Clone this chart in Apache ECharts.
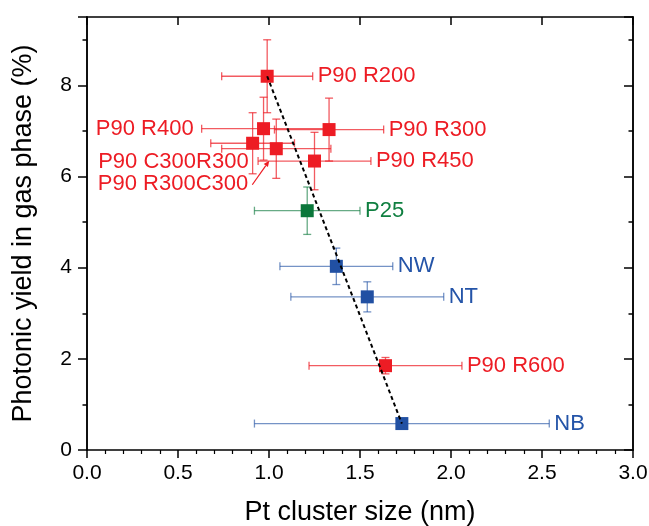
<!DOCTYPE html>
<html>
<head>
<meta charset="utf-8">
<script src="https://cdn.jsdelivr.net/npm/echarts@6/dist/echarts.min.js"></script>
<style>
html,body{margin:0;padding:0;background:#ffffff;}
#chart{width:649px;height:526px;}
</style>
</head>
<body>
<div id="chart"></div>
<script>
// ---------------- data ----------------
const sampleNames      = ['P90 R200','P90 R400','P90 R300','P90 C300R300','P90 R300C300','P90 R450','P25','NW','NT','P90 R600','NB'];
const sampleType       = ['P90','P90','P90','P90','P90','P90','P25','N','N','P90','N'];
const clusterSize      = [0.99, 0.97, 1.33, 0.91, 1.04, 1.25, 1.21, 1.37, 1.54, 1.64, 1.73];
const clusterSizeErr   = [0.25, 0.34, 0.30, 0.23, 0.30, 0.31, 0.29, 0.31, 0.42, 0.42, 0.81];
const photonicYield    = [8.20, 7.05, 7.03, 6.73, 6.61, 6.34, 5.25, 4.03, 3.36, 1.85, 0.58];
const photonicYieldErr = [0.80, 0.69, 0.69, 0.67, 0.65, 0.63, 0.52, 0.40, 0.33, 0.18, 0.04];
const trendSize        = [0.99, 1.73];
const trendYield       = [8.20, 0.58];
const xTickValues      = [0, 0.5, 1.0, 1.5, 2.0, 2.5, 3.0];
const yTickValues      = [0, 2, 4, 6, 8];

// ---------------- styles ----------------
const FONT = "'Liberation Sans', Arial, sans-serif";
const groupStyle = {
  P90: {marker:'#ed1c24', bar:'rgba(237,28,36,0.72)', text:'#ed1c24'},
  P25: {marker:'#0a773a', bar:'rgba(10,119,58,0.62)', text:'#0f7f40'},
  N:   {marker:'#2150a3', bar:'rgba(33,80,163,0.62)', text:'#2454a8'}
};
const groupOrder = ['P90','P25','N'];
// label placement (pixel offsets relative to the point)
const labelPlacement = {
  'P90 R400':     {side:'left'},
  'P90 C300R300': {side:'free', dx:-4,  dy:19},
  'P90 R300C300': {side:'free', dx:-28, dy:35, arrow:{x1:-24, y1:36, x2:-7, y2:12}}
};

const chart = echarts.init(document.getElementById('chart'), null, {renderer:'canvas'});

function rowsFor(type){
  const rows = [];
  for (let i = 0; i < sampleNames.length; i++) {
    if (sampleType[i] === type) rows.push([clusterSize[i], clusterSizeErr[i], photonicYield[i], photonicYieldErr[i], i]);
  }
  return rows;
}

function makeErrorRender(type){
  const st = groupStyle[type];
  return function(params, api){
    const x = api.value(0), xe = api.value(1), y = api.value(2), ye = api.value(3);
    const l = api.coord([x - xe, y]);
    const r = api.coord([x + xe, y]);
    const t = api.coord([x, y + ye]);
    const b = api.coord([x, y - ye]);
    const cap = 4;
    const ls = {stroke: st.bar, lineWidth: 1.3, fill: null};
    const children = [
      {type:'line', shape:{x1:l[0], y1:l[1], x2:r[0], y2:r[1]}, style:ls},
      {type:'line', shape:{x1:l[0], y1:l[1]-cap, x2:l[0], y2:l[1]+cap}, style:ls},
      {type:'line', shape:{x1:r[0], y1:r[1]-cap, x2:r[0], y2:r[1]+cap}, style:ls},
      {type:'line', shape:{x1:t[0], y1:t[1], x2:b[0], y2:b[1]}, style:ls},
      {type:'line', shape:{x1:t[0]-cap, y1:t[1], x2:t[0]+cap, y2:t[1]}, style:ls},
      {type:'line', shape:{x1:b[0]-cap, y1:b[1], x2:b[0]+cap, y2:b[1]}, style:ls}
    ];
    return {type:'group', children:children};
  };
}

function makeLabelRender(type){
  const st = groupStyle[type];
  return function(params, api){
    const x = api.value(0), xe = api.value(1), y = api.value(2), idx = api.value(4);
    const name = sampleNames[idx];
    const c = api.coord([x, y]);
    const l = api.coord([x - xe, y]);
    const r = api.coord([x + xe, y]);
    const pl = labelPlacement[name] || {side:'right'};
    let tx, ty, align;
    if (pl.side === 'left') { tx = l[0] - 8; ty = c[1]; align = 'right'; }
    else if (pl.side === 'free') { tx = c[0] + pl.dx; ty = c[1] + pl.dy; align = 'right'; }
    else { tx = r[0] + 5; ty = c[1]; align = 'left'; }
    const children = [{
      type:'text', x:tx, y:ty,
      style:{text:name, fill:st.text, font:'22px ' + FONT, align:align, verticalAlign:'middle'}
    }];
    if (pl.arrow) {
      const a = pl.arrow;
      const x1 = c[0] + a.x1, y1 = c[1] + a.y1, x2 = c[0] + a.x2, y2 = c[1] + a.y2;
      const ang = Math.atan2(y2 - y1, x2 - x1);
      const hl = 6, hw = 2.6;
      const bx = x2 - hl * Math.cos(ang), by = y2 - hl * Math.sin(ang);
      children.push({type:'line', shape:{x1:x1, y1:y1, x2:bx, y2:by}, style:{stroke:st.marker, lineWidth:1.2}});
      children.push({type:'polygon', shape:{points:[
        [x2, y2],
        [bx + hw * Math.sin(ang), by - hw * Math.cos(ang)],
        [bx - hw * Math.sin(ang), by + hw * Math.cos(ang)]
      ]}, style:{fill:st.marker}});
    }
    return {type:'group', children:children};
  };
}

const series = [];
groupOrder.forEach(function(type){
  series.push({
    type:'custom', name:type + ' err', data:rowsFor(type),
    encode:{x:0, y:2}, renderItem:makeErrorRender(type), z:2, silent:true, clip:false
  });
});
groupOrder.forEach(function(type){
  series.push({
    type:'scatter', name:type, data:rowsFor(type).map(function(r){return [r[0], r[2]];}),
    symbol:'rect', symbolSize:13, itemStyle:{color:groupStyle[type].marker, opacity:1}, z:3, silent:true
  });
});
series.push({
  type:'line', name:'trend', data:trendSize.map(function(v, i){return [v, trendYield[i]];}),
  symbol:'none', lineStyle:{color:'#000', width:2, type:[4,3]}, z:4, silent:true
});
groupOrder.forEach(function(type){
  series.push({
    type:'custom', name:type + ' labels', data:rowsFor(type),
    encode:{x:0, y:2}, renderItem:makeLabelRender(type), z:5, silent:true, clip:false
  });
});

const axisLineStyle = {color:'#000', width:1.5};
const baseX = {type:'value', min:0, max:3, interval:0.5, gridIndex:0,
  axisLine:{show:true, onZero:false, lineStyle:axisLineStyle}, splitLine:{show:false}, minorSplitLine:{show:false}};
const baseY = {type:'value', min:0, max:9.5, gridIndex:0,
  axisLine:{show:true, onZero:false, lineStyle:axisLineStyle}, splitLine:{show:false}, minorSplitLine:{show:false}};

const option = {
  backgroundColor:'#ffffff',
  animation:false,
  grid:{left:87, right:16, top:17, bottom:76, containLabel:false, outerBoundsMode:'none'},
  xAxis:[
    Object.assign({}, baseX, {
      position:'bottom',
      axisTick:{show:true, inside:false, length:8, lineStyle:{color:'#000', width:1.5}},
      minorTick:{show:true, splitNumber:5, length:4, lineStyle:{color:'#000', width:1.2}},
      axisLabel:{show:true, margin:13, fontSize:21, color:'#000', fontFamily:FONT,
        formatter:function(v){ return xTickValues.indexOf(v) >= 0 ? v.toFixed(1) : ''; }},
      name:'Pt cluster size (nm)', nameLocation:'middle', nameGap:49,
      nameTextStyle:{fontSize:27, color:'#000', fontFamily:FONT}
    }),
    Object.assign({}, baseX, {
      position:'top',
      axisTick:{show:true, inside:true, length:8, lineStyle:{color:'#000', width:1.5}},
      axisLabel:{show:false}
    })
  ],
  yAxis:[
    Object.assign({}, baseY, {
      position:'left', interval:2,
      axisTick:{show:true, inside:false, length:9, lineStyle:{color:'#000', width:1.5}},
      axisLabel:{show:true, margin:15, fontSize:21, color:'#000', fontFamily:FONT,
        formatter:function(v){ return yTickValues.indexOf(v) >= 0 ? String(v) : ''; }},
      name:'Photonic yield in gas phase (%)', nameLocation:'middle', nameGap:50,
      nameTextStyle:{fontSize:27, color:'#000', fontFamily:FONT}
    }),
    Object.assign({}, baseY, {
      position:'left', interval:1,
      axisTick:{show:true, inside:false, length:4.5, lineStyle:{color:'#000', width:1.5}},
      axisLabel:{show:false}
    }),
    Object.assign({}, baseY, {
      position:'right', interval:2,
      axisTick:{show:true, inside:true, length:9, lineStyle:{color:'#000', width:1.5}},
      axisLabel:{show:false}
    }),
    Object.assign({}, baseY, {
      position:'right', interval:1,
      axisTick:{show:true, inside:true, length:4.5, lineStyle:{color:'#000', width:1.5}},
      axisLabel:{show:false}
    })
  ],
  series:series
};
chart.setOption(option);
</script>
</body>
</html>
